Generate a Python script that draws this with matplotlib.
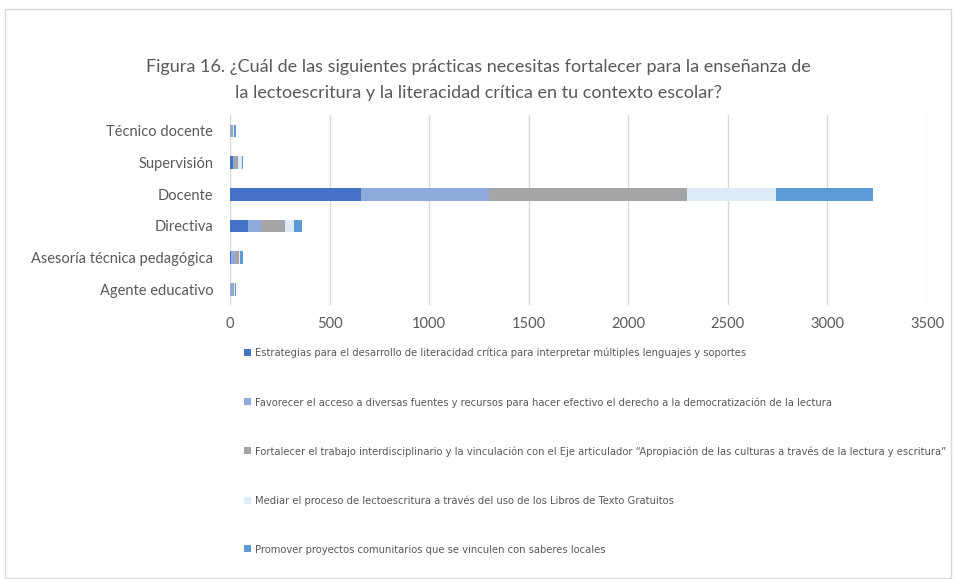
import matplotlib
matplotlib.use("Agg")
import matplotlib.pyplot as plt
from matplotlib.patches import Rectangle, Patch
from matplotlib import font_manager as fm
import numpy as np

plt.rcParams['font.family'] = ['Lato', 'DejaVu Sans']

categories = ["Agente educativo", "Asesoría técnica pedagógica", "Directiva",
              "Docente", "Supervisión", "Técnico docente"]
series_names = [
    "Estrategias para el desarrollo de literacidad crítica para interpretar múltiples lenguajes y soportes",
    "Favorecer el acceso a diversas fuentes y recursos para hacer efectivo el derecho a la democratización de la lectura",
    "Fortalecer el trabajo interdisciplinario y la vinculación con el Eje articulador “Apropiación de las culturas a través de la lectura y escritura”",
    "Mediar el proceso de lectoescritura a través del uso de los Libros de Texto Gratuitos",
    "Promover proyectos comunitarios que se vinculen con saberes locales",
]
estrategias = [2, 3, 90, 657, 13, 2]
favorecer = [12, 20, 67, 645, 7, 5]
fortalecer = [8, 20, 120, 994, 22, 10]
mediar = [3, 7, 43, 444, 17, 5]
promover = [5, 13, 40, 490, 8, 8]
colors = ["#4472C4", "#8FAADC", "#A5A5A5", "#DDEBF7", "#5B9BD5"]
xticks = [0, 500, 1000, 1500, 2000, 2500, 3000, 3500]


def available(fam, **kw):
    try:
        fm.findfont(fm.FontProperties(family=fam, **kw), fallback_to_default=False)
        return True
    except Exception:
        return False


legend_family = ['Lato', 'DejaVu Sans']
legend_stretch = 'normal'
if available('Liberation Sans Narrow'):
    legend_family = ['Liberation Sans Narrow', 'DejaVu Sans']
elif available('DejaVu Sans', stretch='condensed'):
    legend_family = ['DejaVu Sans']
    legend_stretch = 'condensed'

W, H = 956, 579
fig = plt.figure(figsize=(W / 100, H / 100), dpi=100)
fig.patches.append(Rectangle((5 / W, 1 - 578 / H), 946 / W, 569 / H,
                             transform=fig.transFigure, fill=False,
                             edgecolor="#d9d9d9", linewidth=1))

ax = fig.add_axes([230 / W, 1 - 305 / H, (927 - 230) / W, (305 - 115) / H])
y = np.arange(len(categories))
left = np.zeros(len(categories))
data = [estrategias, favorecer, fortalecer, mediar, promover]
handles = []
for vals, c, name in zip(data, colors, series_names):
    ax.barh(y, vals, left=left, height=0.4, color=c, zorder=3)
    left += np.array(vals)
    handles.append(Patch(facecolor=c, label=name))

ax.set_xlim(0, 3500)
ax.set_ylim(-0.5, len(categories) - 0.5)
ax.set_xticks(xticks)
ax.set_yticks(y)
ax.set_yticklabels(categories)
ax.grid(axis='x', color="#d9d9d9", linewidth=1, zorder=0)
for s in ax.spines.values():
    s.set_visible(False)
ax.tick_params(axis='both', length=0, labelsize=10.5, labelcolor="#595959")
ax.tick_params(axis='y', pad=12)
ax.tick_params(axis='x', pad=9)

fig.text(0.5, 1 - 67 / H, "Figura 16. ¿Cuál de las siguientes prácticas necesitas fortalecer para la enseñanza de",
         ha='center', va='center', fontsize=13, color="#595959")
fig.text(0.5, 1 - 93 / H, "la lectoescritura y la literacidad crítica en tu contexto escolar?",
         ha='center', va='center', fontsize=13, color="#595959")

# fit the legend font so the longest entry spans the same width as the reference
renderer = fig.canvas.get_renderer()
probe = fig.text(0, 0, series_names[2], fontsize=10, family=legend_family,
                 fontstretch=legend_stretch)
wpx = probe.get_window_extent(renderer).width
probe.remove()
leg_size = min(10.5, 10 * 694 / wpx)
fs_px = leg_size * 100 / 72

leg = fig.legend(handles=handles, loc='upper left', bbox_to_anchor=(244 / W, 1 - 348 / H),
                 frameon=False, labelcolor="#595959",
                 prop=fm.FontProperties(family=legend_family, size=leg_size,
                                        stretch=legend_stretch),
                 handlelength=0.6, handleheight=0.6, handletextpad=0.35,
                 labelspacing=49 / fs_px - 1.2 + 3 / fs_px,
                 borderaxespad=0, borderpad=0)

fig.savefig("out.png", dpi=100)
